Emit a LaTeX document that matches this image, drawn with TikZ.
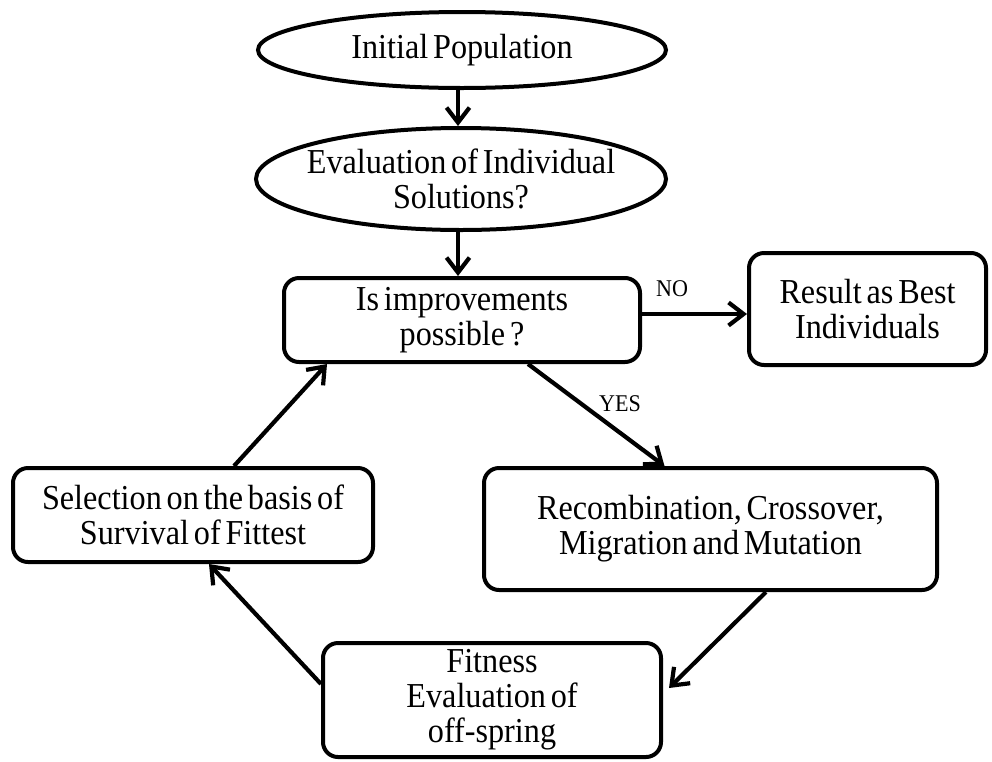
\documentclass[tikz,border=0pt]{standalone}
\usepackage{fontspec}
\setmainfont[FakeStretch=0.92,WordSpace=0.6]{Liberation Serif}
\usetikzlibrary{shapes.geometric,arrows.meta,calc}

\tikzset{
  base/.style={draw=black, line width=4pt, align=center, inner sep=0pt,
    font=\fontsize{35}{35}\selectfont},
  oval/.style={base, ellipse, inner xsep=-60pt, inner ysep=-12pt},
  stepbox/.style={base, rectangle, rounded corners=15pt},
  flow/.style={line width=4.2pt, -{Straight Barb[length=15pt,width=23pt]}},
  tag/.style={font=\fontsize{24}{26}\selectfont, inner sep=0pt}
}

\begin{document}
\begin{tikzpicture}[x=1pt,y=-1pt]
\useasboundingbox (0,0) rectangle (992,761);

% start and evaluation ellipses
\node[oval, minimum width=408pt, minimum height=76pt] (init) at (462,50) {Initial Population};
\node[oval, minimum width=410pt, minimum height=102pt] (eval) at (461,179)
  {Evaluation of Individual\\Solutions?};

% decision and process boxes
\node[stepbox, minimum width=356pt, minimum height=84pt] (improve) at (462,320)
  {Is improvements\\possible ?};
\node[stepbox, minimum width=237pt, minimum height=112pt] (result) at (867.5,309)
  {Result as Best\\Individuals};
\node[stepbox, minimum width=453pt, minimum height=122pt] (recomb) at (710.5,529)
  {Recombination, Crossover,\\Migration and Mutation};
\node[stepbox, minimum width=338pt, minimum height=114pt] (fitness) at (492,700)
  {Fitness\\Evaluation of\\off-spring};
\node[stepbox, minimum width=360pt, minimum height=94pt] (select) at (193,515)
  {Selection on the basis of\\Survival of Fittest};

% connectors
\draw[flow] (init.south -| 458,0) -- (eval.north -| 458,0);
\draw[flow] (eval.south -| 458,0) -- (improve.north -| 458,0);
\draw[flow] (improve.east |- 0,314) -- (result.west |- 0,314);
\draw[flow] ($(improve.south)+(66,0)$) -- ($(recomb.north)+(-46,0)$);
\draw[flow] ($(recomb.south)+(55.5,0)$) -- ($(fitness.east)+(6,-12)$);
\draw[flow] ($(fitness.west)+(0,-16)$) -- ($(select.south)+(16,0)$);
\draw[flow] ($(select.north)+(41,0)$) -- ($(improve.south west)+(45,0)$);

% branch labels
\node[tag] (no) at (672,289) {NO};
\node[tag] (yes) at (620,404) {YES};
\end{tikzpicture}
\end{document}
